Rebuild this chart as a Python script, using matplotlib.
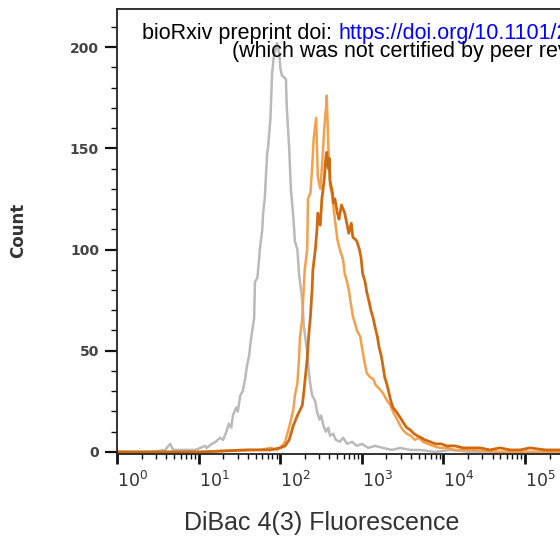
import matplotlib
matplotlib.use("Agg")
import matplotlib.pyplot as plt
import numpy as np

# histograms: log10 fluorescence vs count
gray_logfl = [0, 0.40, 0.59, 0.65, 0.69, 0.83, 0.96, 1.02, 1.08, 1.10, 1.16, 1.21, 1.26, 1.30,
              1.34, 1.37, 1.40, 1.42, 1.46, 1.48, 1.51, 1.54, 1.57, 1.59, 1.62, 1.63, 1.65, 1.68,
              1.69, 1.72, 1.74, 1.75, 1.78, 1.79, 1.81, 1.84, 1.85, 1.88, 1.90, 1.92, 1.95, 1.96,
              1.99, 2.00, 2.02, 2.05, 2.07, 2.08, 2.11, 2.13, 2.16, 2.18, 2.21, 2.23, 2.27, 2.29,
              2.33, 2.35, 2.37, 2.39, 2.43, 2.45, 2.48, 2.50, 2.53, 2.56, 2.59, 2.61, 2.65, 2.68,
              2.73, 2.77, 2.82, 2.88, 2.94, 3.00, 3.08, 3.16, 3.26, 3.37, 3.47, 3.59, 3.71, 3.90,
              4.08, 4.33, 5.43]
gray_count = [0, 0, 1, 4, 1, 1, 1, 2, 3, 2, 4, 5, 7, 6,
              10, 14, 12, 18, 22, 20, 28, 30, 36, 42, 48, 52, 58, 66,
              84, 86, 95, 100, 110, 118, 125, 148, 150, 165, 187, 195, 200, 202,
              196, 190, 186, 185, 184, 170, 150, 130, 116, 104, 100, 88, 75, 62,
              49, 40, 33, 28, 25, 20, 16, 18, 13, 10, 12, 8, 9, 6,
              5, 7, 4, 5, 3, 4, 2, 3, 2, 1, 2, 1, 1, 0,
              1, 0, 0]

light_logfl = [0, 1.02, 1.51, 1.75, 1.88, 1.96, 2.02, 2.06, 2.08, 2.12, 2.16, 2.18, 2.21, 2.23,
               2.24, 2.27, 2.28, 2.30, 2.33, 2.34, 2.37, 2.39, 2.41, 2.44, 2.45, 2.46, 2.49, 2.51,
               2.54, 2.56, 2.57, 2.59, 2.61, 2.64, 2.66, 2.70, 2.73, 2.77, 2.79, 2.82, 2.84, 2.87,
               2.89, 2.92, 2.94, 2.98, 3.00, 3.03, 3.06, 3.10, 3.14, 3.17, 3.22, 3.26, 3.30, 3.35,
               3.38, 3.42, 3.47, 3.50, 3.55, 3.60, 3.65, 3.70, 3.75, 3.81, 3.87, 3.96, 4.04, 4.14,
               4.33, 4.69, 5.43]
light_count = [0, 0, 1, 1, 2, 1, 3, 5, 8, 14, 21, 28, 34, 46,
               56, 66, 75, 90, 100, 125, 128, 140, 155, 165, 150, 136, 130, 140,
               160, 170, 176, 150, 132, 126, 118, 105, 100, 95, 88, 84, 80, 72,
               67, 63, 60, 57, 52, 45, 39, 37, 36, 33, 31, 29, 26, 23,
               20, 17, 13, 11, 9, 8, 6, 7, 5, 4, 3, 2, 2, 1,
               1, 0, 0]

dark_logfl = [0, 1.02, 1.63, 1.88, 2.00, 2.06, 2.11, 2.16, 2.21, 2.27, 2.29, 2.33, 2.35, 2.37,
              2.39, 2.40, 2.43, 2.45, 2.46, 2.49, 2.51, 2.54, 2.56, 2.57, 2.59, 2.60, 2.61, 2.64,
              2.65, 2.67, 2.70, 2.72, 2.75, 2.77, 2.79, 2.82, 2.84, 2.87, 2.89, 2.92, 2.94, 2.97,
              2.99, 3.01, 3.04, 3.06, 3.09, 3.11, 3.14, 3.16, 3.19, 3.21, 3.24, 3.26, 3.28, 3.31,
              3.35, 3.38, 3.42, 3.47, 3.50, 3.55, 3.59, 3.64, 3.68, 3.73, 3.77, 3.84, 3.90, 3.97,
              4.04, 4.14, 4.24, 4.33, 4.45, 4.57, 4.69, 4.82, 4.94, 5.06, 5.25, 5.43]
dark_count = [0, 0, 1, 1, 2, 3, 6, 13, 18, 23, 30, 46, 58, 67,
              80, 90, 100, 110, 118, 112, 125, 135, 146, 148, 140, 145, 134, 128,
              123, 125, 118, 115, 122, 120, 118, 112, 108, 113, 106, 105, 104, 100,
              96, 88, 84, 79, 74, 70, 66, 62, 57, 52, 47, 42, 37, 33,
              26, 22, 20, 17, 15, 12, 11, 9, 8, 7, 6, 5, 4, 4,
              3, 3, 2, 2, 2, 1, 2, 1, 1, 2, 1, 1]

x_ticks = [1, 10, 100, 1000, 10000, 100000]
x_ticklabels = [r"$10^{0}$", r"$10^{1}$", r"$10^{2}$", r"$10^{3}$", r"$10^{4}$", r"$10^{5}$"]
y_ticks = [0, 50, 100, 150, 200]

fig = plt.figure(figsize=(5.6, 5.4), dpi=100)
ax = fig.add_axes([0.209, 0.1593, 0.791, 0.824])

ax.plot(np.power(10.0, gray_logfl), gray_count, color="#bababa", lw=1.8)
ax.plot(np.power(10.0, light_logfl), light_count, color="#f4a04c", lw=1.8)
ax.plot(np.power(10.0, dark_logfl), dark_count, color="#cf6a12", lw=2.0)

ax.set_xscale("log")
ax.set_xlim(1, 268000)
ax.set_ylim(-1, 218.8)

ax.spines["right"].set_visible(False)
for s in ["left", "top", "bottom"]:
    ax.spines[s].set_linewidth(1.3)
    ax.spines[s].set_color("#222222")

ax.set_xticks(x_ticks)
ax.set_xticklabels(x_ticklabels, fontsize=12.5, color="#333333")
for lab in ax.get_xticklabels():
    lab.set_ha("left")
ax.set_yticks(y_ticks)
ax.set_yticks(np.arange(0, 220, 10), minor=True)
ax.set_yticklabels([str(v) for v in y_ticks], fontsize=10, fontweight="bold", color="#444444")

ax.tick_params(axis="x", which="major", direction="out", length=7, width=2, pad=5, color="#111111")
ax.tick_params(axis="x", which="minor", direction="out", length=3.5, width=1, color="#111111")
ax.tick_params(axis="y", which="major", direction="out", length=9, width=1.6, pad=4, color="#111111")
ax.tick_params(axis="y", which="minor", direction="out", length=4.5, width=1, color="#111111")

fig.text(0.032, 0.574, "Count", rotation=90, ha="center", va="center",
         fontsize=12, fontweight="bold", color="#333333")
fig.text(0.575, 0.019, "DiBac 4(3) Fluorescence", ha="center", va="baseline",
         fontsize=18, color="#333333", family="Liberation Sans")

# preprint watermark (cropped at the right edge)
t1 = fig.text(0.2536, 0.928, "bioRxiv preprint doi: ", ha="left", va="baseline",
              fontsize=15.5, color="black", family="Liberation Sans")
fig.canvas.draw()
bb = t1.get_window_extent()
fig.text(bb.x1 / fig.bbox.width, 0.928, "https://doi.org/10.1101/2", ha="left", va="baseline",
         fontsize=15.5, color="#0000ff", family="Liberation Sans")
fig.text(0.414, 0.894, "(which was not certified by peer review)", ha="left", va="baseline",
         fontsize=15.5, color="black", family="Liberation Sans")

fig.savefig("out.png", dpi=100)
